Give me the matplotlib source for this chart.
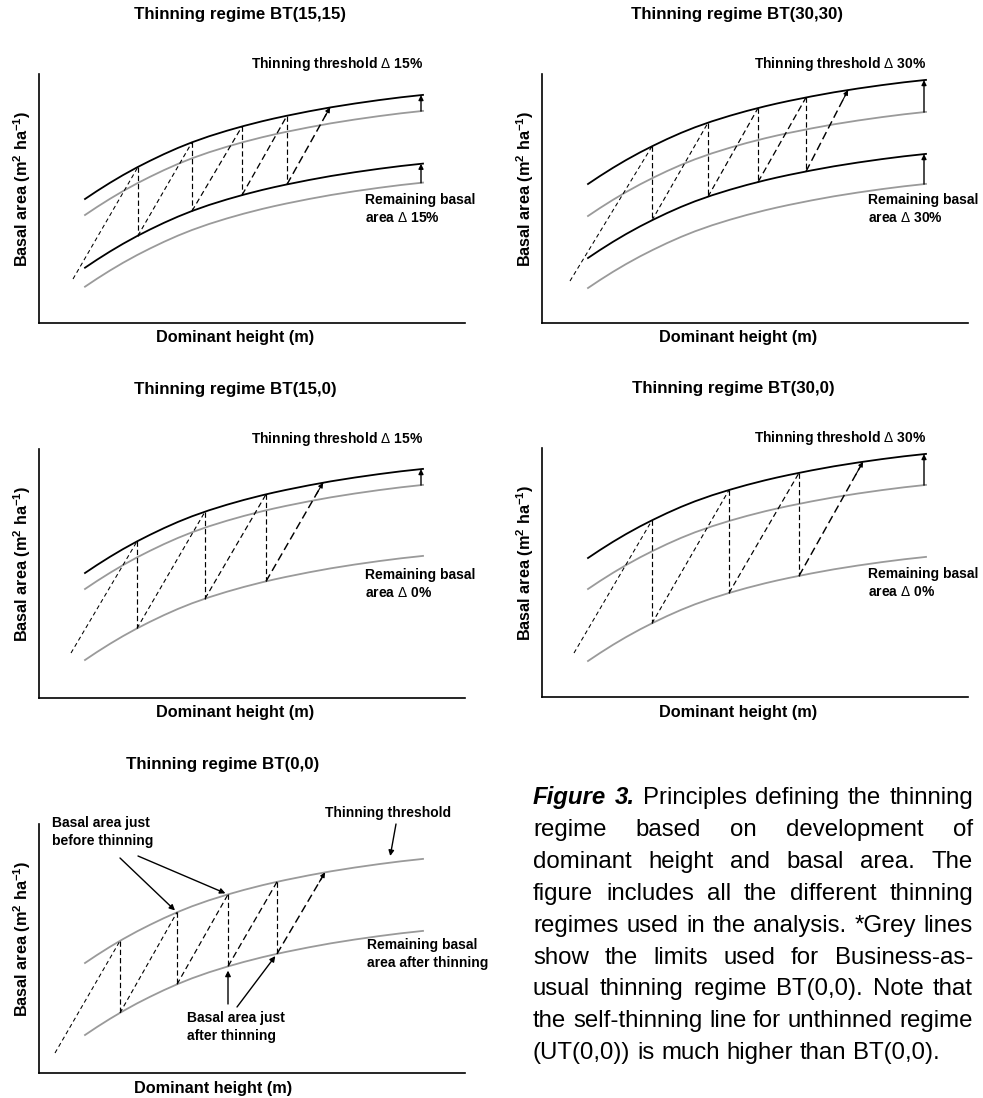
import numpy as np
import matplotlib
matplotlib.use("Agg")
import matplotlib.pyplot as plt

plt.rcParams['font.family'] = ['Liberation Sans', 'DejaVu Sans']
plt.rcParams['mathtext.fontset'] = 'custom'
plt.rcParams['mathtext.rm'] = 'Liberation Sans'
plt.rcParams['mathtext.bf'] = 'Liberation Sans:bold'
plt.rcParams['mathtext.it'] = 'Liberation Sans:italic'

W, H = 983, 1098

# common shape of the basal area curves (dominant height -> rise), schematic units
shape_x = [46, 58, 71, 84, 98, 111, 125, 139, 153, 170, 188, 205, 223, 235,
           247, 270, 292, 316, 340, 362, 384]
shape_rise = [0, 8.0, 16.2, 23.9, 31.6, 38.2, 44.9, 51.1, 56.7, 62.7, 68.3, 73.1, 77.7, 80.5,
              83.1, 87.7, 91.7, 95.5, 98.9, 101.7, 104.1]

titles = ["Thinning regime BT(15,15)", "Thinning regime BT(30,30)",
          "Thinning regime BT(15,0)", "Thinning regime BT(30,0)",
          "Thinning regime BT(0,0)"]
threshold_pct = ["15%", "30%", "15%", "30%", None]
remaining_pct = ["15%", "30%", "0%", "0%", None]

# curve levels at the start of the curve (schematic units)
grey_lower = [36.3, 35, 38, 36, 38]
grey_upper = [108, 107, 109, 108, 110]
black_upper = [124, 139, 125, 139, None]
black_lower = [55.3, 65, None, None, None]

# dominant heights at which thinnings happen
thin_heights = [[99, 153, 203, 248],
                [110, 166, 216, 264],
                [98, 166, 227],
                [110, 187, 257],
                [81, 138, 189, 238]]
next_heights = [291, 306, 284, 321, 286]
start_x = [34, 28, 32, 32, 16]
start_y = [44, 42, 45, 44, 20]

caption_lines = [
    "Figure 3. Principles defining the thinning",
    "regime based on development of",
    "dominant height and basal area. The",
    "figure includes all the different thinning",
    "regimes used in the analysis. *Grey lines",
    "show the limits used for Business-as-",
    "usual thinning regime BT(0,0). Note that",
    "the self-thinning line for unthinned regime",
    "(UT(0,0)) is much higher than BT(0,0).",
]

# panel placement (pixels)
panel_left = [39, 542, 39, 542, 39]
panel_bottom = [323, 323, 698, 697, 1073]
panel_w, panel_h = 426, 249
title_x = [201, 195, 196, 191, 184]
xlabel_x = [196, 196, 196, 196, 174]

GREY = '#9a9a9a'


def level(base, x):
    return base + np.interp(x, shape_x, shape_rise)


fig = plt.figure(figsize=(W / 100, H / 100), dpi=100)

for i in range(5):
    ax = fig.add_axes([panel_left[i] / W, 1 - panel_bottom[i] / H,
                       panel_w / W, panel_h / H])
    ax.set_xlim(0, panel_w)
    ax.set_ylim(0, panel_h)
    ax.set_xticks([])
    ax.set_yticks([])
    for s in ['top', 'right']:
        ax.spines[s].set_visible(False)
    for s in ['left', 'bottom']:
        ax.spines[s].set_linewidth(1.2)

    rise = np.array(shape_rise)
    ax.plot(shape_x, rise + grey_lower[i], color=GREY, lw=1.3, zorder=2)
    ax.plot(shape_x, rise + grey_upper[i], color=GREY, lw=1.3, zorder=2)
    if black_upper[i] is not None:
        ax.plot(shape_x, rise + black_upper[i], color='black', lw=1.3, zorder=3)
    if black_lower[i] is not None:
        ax.plot(shape_x, rise + black_lower[i], color='black', lw=1.3, zorder=3)

    upper = black_upper[i] if black_upper[i] is not None else grey_upper[i]
    lower = black_lower[i] if black_lower[i] is not None else grey_lower[i]

    # growth and thinning zigzag
    hs = thin_heights[i]
    ax.plot([start_x[i], hs[0]], [start_y[i], level(upper, hs[0])],
            color='black', lw=0.75, dashes=(4, 3), zorder=4)
    for k, h in enumerate(hs):
        ax.plot([h, h], [level(upper, h), level(lower, h)],
                color='black', lw=0.85, dashes=(4.5, 2.5), zorder=4)
        if k + 1 < len(hs):
            ax.plot([h, hs[k + 1]], [level(lower, h), level(upper, hs[k + 1])],
                    color='black', lw=0.8 + 0.07 * k, dashes=(4 + 0.5 * k, 2.8), zorder=4)
    x0, y0 = hs[-1], level(lower, hs[-1])
    x1, y1 = next_heights[i], level(upper, next_heights[i])
    ax.plot([x0, x1], [y0, y1], color='black', lw=1.05, dashes=(5.5, 2.8), zorder=4)
    ax.annotate('', xy=(x1, y1), xytext=(x1 - 0.12 * (x1 - x0), y1 - 0.12 * (y1 - y0)),
                arrowprops=dict(arrowstyle='-|>', color='black', lw=0.8,
                                mutation_scale=7, shrinkA=0, shrinkB=0), zorder=5)

    # shift arrows at the right end
    xa = shape_x[-1] - 2
    if black_upper[i] is not None:
        ax.annotate('', xy=(xa, level(black_upper[i], xa)), xytext=(xa, level(grey_upper[i], xa)),
                    arrowprops=dict(arrowstyle='-|>', color='black', lw=1.0,
                                    mutation_scale=7, shrinkA=0, shrinkB=0))
    if black_lower[i] is not None:
        ax.annotate('', xy=(xa, level(black_lower[i], xa)), xytext=(xa, level(grey_lower[i], xa)),
                    arrowprops=dict(arrowstyle='-|>', color='black', lw=1.0,
                                    mutation_scale=7, shrinkA=0, shrinkB=0))

    txt = dict(fontsize=10, fontweight='bold', va='center', clip_on=False)
    if threshold_pct[i] is not None:
        ax.text(384, 259, r"Thinning threshold $\Delta$ " + threshold_pct[i], ha='right', **txt)
        ax.text(326, 123, "Remaining basal", ha='left', **txt)
        ax.text(326, 105, r"area $\Delta$ " + remaining_pct[i], ha='left', **txt)
    else:
        ax.text(13, 250, "Basal area just", ha='left', **txt)
        ax.text(13, 232, "before thinning", ha='left', **txt)
        ax.text(286, 260, "Thinning threshold", ha='left', **txt)
        ax.text(328, 128, "Remaining basal", ha='left', **txt)
        ax.text(328, 110, "area after thinning", ha='left', **txt)
        ax.text(148, 55, "Basal area just", ha='left', **txt)
        ax.text(148, 37, "after thinning", ha='left', **txt)
        arr = dict(arrowstyle='-|>', color='black', lw=1.0, mutation_scale=8, shrinkA=0)
        ax.annotate('', xy=(hs[1], level(upper, hs[1])), xytext=(81, 215),
                    arrowprops=dict(arr, shrinkB=2))
        ax.annotate('', xy=(hs[2], level(upper, hs[2])), xytext=(99, 217),
                    arrowprops=dict(arr, shrinkB=2))
        ax.annotate('', xy=(350, level(upper, 350)), xytext=(357, 249),
                    arrowprops=dict(arr, shrinkB=5))
        ax.annotate('', xy=(hs[2], level(lower, hs[2])), xytext=(189, 69),
                    arrowprops=dict(arr, shrinkB=3))
        ax.annotate('', xy=(hs[3], level(lower, hs[3])), xytext=(198, 66),
                    arrowprops=dict(arr, shrinkB=2))

    ax.text(title_x[i], 308, titles[i], ha='center', va='center',
            fontsize=12.2, fontweight='bold', clip_on=False)
    ax.text(xlabel_x[i], -15, "Dominant height (m)", ha='center', va='center',
            fontsize=11.7, fontweight='bold', clip_on=False)
    ax.text(-16.5, 134, r'Basal area (m$^{\mathbf{2}}$ ha$^{\mathbf{-1}}$)', rotation=90,
            ha='center', va='center', fontsize=11.7, fontweight='bold', clip_on=False)

# justified caption
cap_left, cap_right = 533, 973
cap_base, cap_step = 804, 31.9
cap_size = 17.3
renderer = fig.canvas.get_renderer()
for i, line in enumerate(caption_lines):
    y = 1 - (cap_base + i * cap_step) / H
    words = line.split()
    texts = []
    for j, w in enumerate(words):
        bold = (i == 0 and j < 2)
        texts.append(fig.text(0, y, w, fontsize=cap_size, va='baseline', ha='left',
                              fontweight='bold' if bold else 'normal',
                              style='italic' if bold else 'normal'))
    widths = [t.get_window_extent(renderer).width for t in texts]
    if i < len(caption_lines) - 1:
        gap = (cap_right - cap_left - sum(widths)) / (len(words) - 1)
    else:
        gap = 0.278 * cap_size * 100 / 72
    x = cap_left
    for t, w in zip(texts, widths):
        t.set_x(x / W)
        x += w + gap

fig.savefig("out.png", dpi=100)
